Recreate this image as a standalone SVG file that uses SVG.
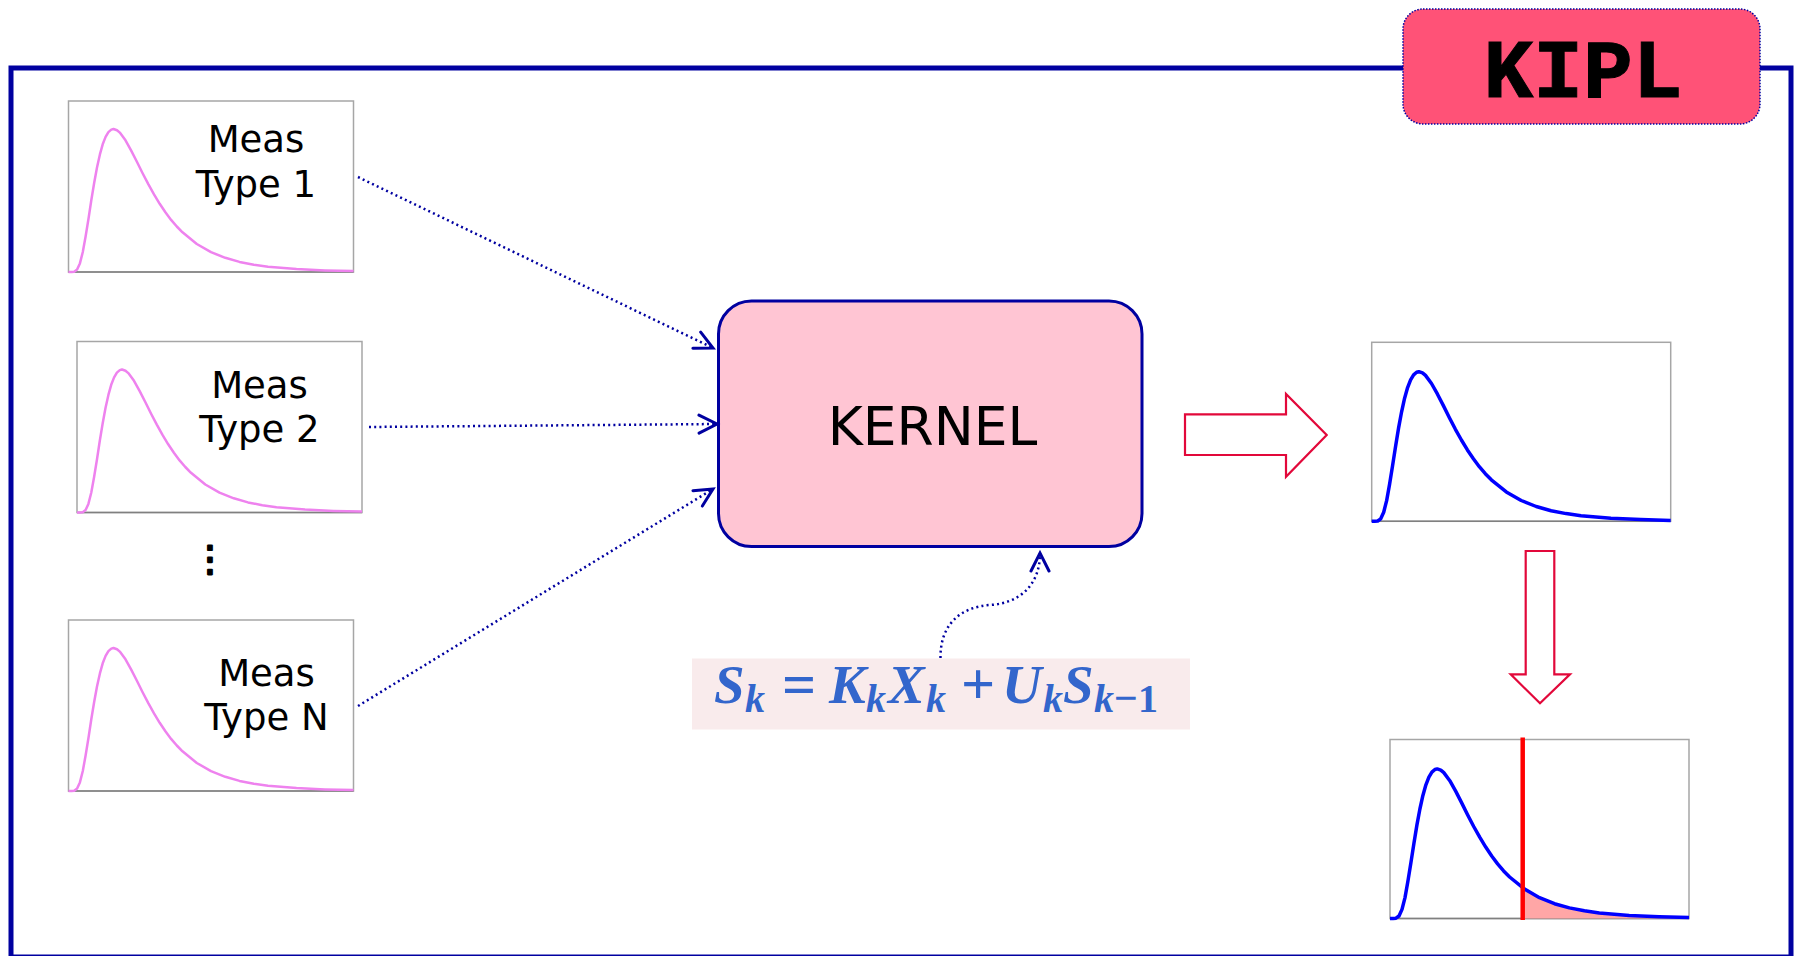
<svg xmlns="http://www.w3.org/2000/svg" xmlns:xlink="http://www.w3.org/1999/xlink" width="1794" height="956" viewBox="0 0 1794 956">
<style>
.plot{fill:#ffffff;stroke:#a6a6a6;stroke-width:1.5}
.axis{stroke:#808080;stroke-width:1.5}
.pink{fill:none;stroke:#ee82ee;stroke-width:2.5;stroke-linejoin:round}
.blue{fill:none;stroke:#0000ff;stroke-width:3.5;stroke-linejoin:round}
.lbl{font-family:"DejaVu Sans",Verdana,sans-serif;font-size:37px;fill:#000;text-anchor:middle}
.conn{fill:none;stroke:#0000a0;stroke-width:2.5;stroke-dasharray:2 3.2}
.hollow{fill:#ffffff;stroke:#e2083a;stroke-width:2.2}
.fm{font-family:"Liberation Serif","Times New Roman",serif;font-weight:bold;fill:#3366cc}
.it{font-style:italic}
</style>
<defs>
<marker id="ah" markerUnits="userSpaceOnUse" markerWidth="24" markerHeight="24" refX="20" refY="11" orient="auto">
<path d="M2,2 L20,11 L2,20" fill="none" stroke="#0000a0" stroke-width="3" stroke-dasharray="none" stroke-linecap="round" stroke-linejoin="miter"/>
</marker>
<path id="curveIn" d="M0,171 L2.9,171 L5.7,170.7 L8.6,168.6 L11.4,162.4 L14.3,151 L17.1,135.5 L20,117.7 L22.8,99.2 L25.7,81.7 L28.5,66.4 L31.4,53.4 L34.2,43.3 L37.1,35.9 L39.9,31.1 L42.8,28.6 L45,28 L48.5,29.2 L51.3,31.6 L57,39.3 L62.7,49.6 L68.4,60.7 L74.1,72.2 L79.8,83.1 L85.5,93.4 L91.2,102.8 L96.9,111.3 L102.6,118.9 L108.3,125.5 L114,131.3 L128.3,143 L142.5,151.2 L156.8,156.8 L171,160.9 L185.3,163.7 L199.5,165.7 L228,168.1 L256.5,169.4 L285,170.1"/>
<path id="curveOut" d="M0,179 L3,179 L6,178.7 L9,176.5 L12,169.9 L15,158.1 L17.9,141.8 L20.9,123.2 L23.9,103.9 L26.9,85.6 L29.9,69.5 L32.9,55.9 L35.9,45.3 L38.9,37.6 L41.9,32.6 L44.9,30 L47.2,29.4 L50.8,30.6 L53.8,33.1 L59.8,41.2 L65.8,51.9 L71.8,63.6 L77.7,75.5 L83.7,87 L89.7,97.7 L95.7,107.6 L101.7,116.5 L107.6,124.4 L113.6,131.4 L119.6,137.5 L134.6,149.6 L149.5,158.2 L164.5,164.2 L179.4,168.4 L194.4,171.3 L209.3,173.4 L239.2,176 L269.1,177.3 L299,178.1"/>
</defs>
<rect width="1794" height="956" fill="#ffffff"/>

<g id="frame">
<rect x="11" y="68" width="1780" height="889" fill="none" stroke="#0000a0" stroke-width="5"/>
</g>

<g id="kipl">
<rect x="1403" y="9" width="357" height="115" rx="20" fill="#ff5277" stroke="#0000a0" stroke-width="1.5" stroke-dasharray="1.5 1.5"/>
<text x="1583" y="97" font-family="'Liberation Mono','Courier New',monospace" font-weight="bold" font-size="83" text-anchor="middle" fill="#000" stroke="#000" stroke-width="1">KIPL</text>
</g>

<g id="meas1">
<rect class="plot" x="68.5" y="101" width="285" height="171"/>
<line class="axis" x1="68.5" y1="272" x2="353.5" y2="272"/>
<use href="#curveIn" x="68.5" y="101" class="pink"/>
<text class="lbl" x="256" y="152">Meas</text>
<text class="lbl" x="256" y="197">Type 1</text>
</g>

<g id="meas2">
<rect class="plot" x="77" y="341.5" width="285" height="171"/>
<line class="axis" x1="77" y1="512.5" x2="362" y2="512.5"/>
<use href="#curveIn" x="77" y="341.5" class="pink"/>
<text class="lbl" x="259.5" y="397.5">Meas</text>
<text class="lbl" x="259.5" y="442">Type 2</text>
</g>

<g id="ellipsis">
<text x="210" y="571" font-family="'DejaVu Sans',sans-serif" font-size="36" text-anchor="middle" fill="#000" stroke="#000" stroke-width="2.2" stroke-linejoin="round">⋮</text>
</g>

<g id="measN">
<rect class="plot" x="68.5" y="620" width="285" height="171"/>
<line class="axis" x1="68.5" y1="791" x2="353.5" y2="791"/>
<use href="#curveIn" x="68.5" y="620" class="pink"/>
<text class="lbl" x="266.5" y="685.5">Meas</text>
<text class="lbl" x="266.5" y="730">Type N</text>
</g>

<g id="kernel">
<rect x="718.5" y="301" width="423.5" height="245.5" rx="33" fill="#ffc5d3" stroke="#0000a0" stroke-width="3"/>
<text x="932.5" y="445" font-family="'DejaVu Sans',Verdana,sans-serif" font-size="53.5" text-anchor="middle" fill="#000">KERNEL</text>
</g>

<g id="formula">
<rect x="692" y="658.5" width="498" height="71" fill="#f9ebec"/>
<text class="fm" font-size="55">
<tspan class="it" x="714" y="703">S</tspan><tspan class="it" x="745" y="712" font-size="40">k</tspan><tspan x="782" y="704" font-size="60">=</tspan><tspan class="it" x="829" y="703">K</tspan><tspan class="it" x="866" y="712" font-size="40">k</tspan><tspan class="it" x="888" y="703">X</tspan><tspan class="it" x="926" y="712" font-size="40">k</tspan><tspan x="961" y="704" font-size="60">+</tspan><tspan class="it" x="1002" y="703">U</tspan><tspan class="it" x="1043" y="712" font-size="40">k</tspan><tspan class="it" x="1063" y="703">S</tspan><tspan class="it" x="1094" y="712" font-size="40">k</tspan><tspan x="1114" y="712" font-size="42">−</tspan><tspan x="1138" y="712" font-size="40">1</tspan>
</text>
</g>

<g id="result">
<rect class="plot" x="1371.7" y="342.3" width="299" height="179"/>
<line class="axis" x1="1371.7" y1="521.3" x2="1670.7" y2="521.3"/>
<use href="#curveOut" x="1371.7" y="342.3" class="blue"/>
</g>

<g id="threshold">
<rect class="plot" x="1390" y="739.5" width="299" height="179"/>
<line class="axis" x1="1390" y1="918.5" x2="1689" y2="918.5"/>
<path transform="translate(1390,739.5)" d="M132.7,179 L132.7,148.2 L134.6,149.6 L149.5,158.2 L164.5,164.2 L179.4,168.4 L194.4,171.3 L209.3,173.4 L239.2,176 L269.1,177.3 L299,178.1 L299,179 Z" fill="#ffa6a6"/>
<use href="#curveOut" x="1390" y="739.5" class="blue"/>
<line x1="1522.7" y1="737.5" x2="1522.7" y2="920" stroke="#ff0000" stroke-width="4.5"/>
</g>

<g id="connectors">
<path class="conn" d="M358,177 L713,348" marker-end="url(#ah)"/>
<path class="conn" d="M369,427 L717,424" marker-end="url(#ah)"/>
<path class="conn" d="M358,706 L713,489" marker-end="url(#ah)"/>
<path class="conn" d="M940.5,658 C940,625 960,607 990,605 C1020,603 1040,585 1040,553" marker-end="url(#ah)"/>
<polygon class="hollow" points="1185,414.3 1286,414.3 1286,394 1326.7,435 1286,476.7 1286,455 1185,455"/>
<polygon class="hollow" points="1525.7,551 1554.3,551 1554.3,674.3 1570,674.3 1540,703.3 1510.7,674.3 1525.7,674.3"/>
</g>
</svg>
